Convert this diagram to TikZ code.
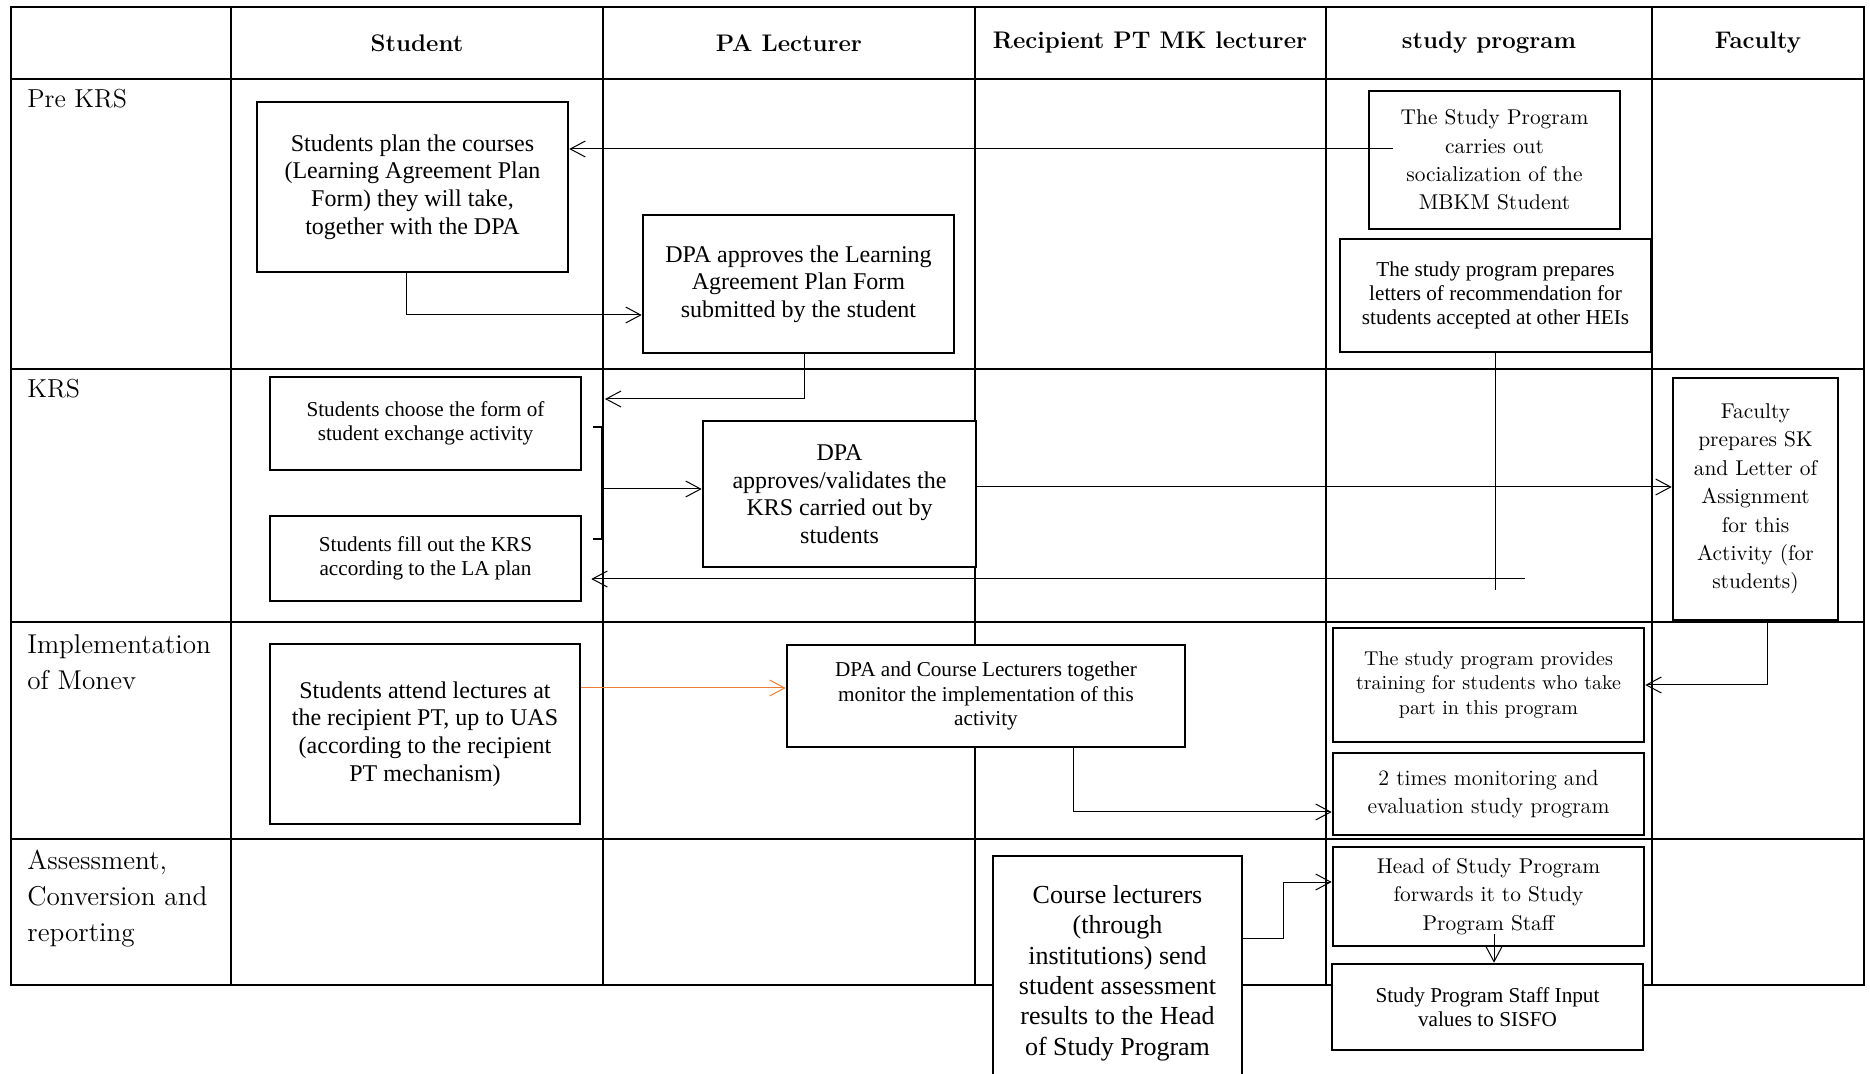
\documentclass[tikz,border=0pt]{standalone}
\usepackage{fontspec}
\newfontfamily\tms{Liberation Serif}
\usetikzlibrary{arrows.meta,calc,positioning}
\definecolor{accent}{RGB}{237,125,49}
\tikzset{
  lane/.style={
    line width=1.1pt
  },
  lanehead/.style={
    font=\bfseries\fontsize{12}{14}\selectfont,
    inner sep=0pt
  },
  phase/.style={
    anchor=north west,
    align=left,
    inner sep=0pt,
    font=\fontsize{13.6}{18}\selectfont
  },
  task/.style={
    draw,
    line width=1.3pt,
    fill=white,
    align=center,
    inner sep=0pt
  },
  small task/.style={
    task,
    font=\tms\fontsize{10.6}{12.2}\selectfont
  },
  large task/.style={
    task,
    font=\tms\fontsize{12}{13.8}\selectfont
  },
  book task/.style={
    task,
    font=\fontsize{10.7}{14.2}\selectfont
  },
  flow/.style={
    -{Straight Barb[length=7.5pt,width=8pt]},
    line width=0.5pt
  },
  bracket/.style={
    line width=1pt
  }
}

\begin{document}
\begin{tikzpicture}[x=0.5pt, y=-0.5pt]
  \useasboundingbox[fill=white] (0,0) rectangle (1870,1074);

  \draw[lane] (11,7) rectangle (1864,985);
  \draw[lane] (231,7) -- (231,985) (603,7) -- (603,985) (975,7) -- (975,985)
    (1326,7) -- (1326,985) (1652,7) -- (1652,985);
  \draw[lane] (11,79) -- (1864,79) (11,369) -- (1864,369) (11,622) -- (1864,622)
    (11,839) -- (1864,839);

  \node[lanehead] (hstud) at (417,43) {Student};
  \node[lanehead] (hpa) at (789,43) {PA Lecturer};
  \node[lanehead] (hrecip) at (1150,43) {Recipient PT MK lecturer};
  \node[lanehead] (hprog) at (1489,43) {study program};
  \node[lanehead] (hfac) at (1758,43) {Faculty};

  \node[phase, font=\fontsize{13}{18}\selectfont] (pre) at (27,89) {Pre KRS};
  \node[phase, font=\fontsize{13}{18}\selectfont] (krs) at (27,379) {KRS};
  \node[phase] (impl) at (27,634) {Implementation\\of Monev};
  \node[phase] (assess) at (27,850) {Assessment,\\Conversion and\\reporting};

  \node[large task, minimum width=155.5pt, minimum height=85pt] (plan) at (412.5,187) {Students plan the courses\\(Learning Agreement Plan\\Form) they will take,\\together with the DPA};
  \node[large task, minimum width=155.5pt, minimum height=69pt] (approve) at (798.5,284) {DPA approves the Learning\\Agreement Plan Form\\submitted by the student};
  \node[book task, minimum width=125.5pt, minimum height=69pt] (social) at (1494.5,160) {The Study Program\\carries out\\socialization of the\\MBKM Student};
  \node[small task, minimum width=155.5pt, minimum height=56.5pt] (letter) at (1495.5,295.5) {The study program prepares\\letters of recommendation for\\students accepted at other HEIs};
  \node[small task, minimum width=155.5pt, minimum height=46.5pt] (choose) at (425.5,423.5) {Students choose the form of\\student exchange activity};
  \node[small task, minimum width=155.5pt, minimum height=42.5pt] (krsfill) at (425.5,558.5) {Students fill out the KRS\\according to the LA plan};
  \node[large task, minimum width=136.5pt, minimum height=73pt] (validate) at (839.5,494) {DPA\\approves/validates the\\KRS carried out by\\students};
  \node[book task, minimum width=82.5pt, minimum height=121pt] (decree) at (1755.5,499) {Faculty\\prepares SK\\and Letter of\\Assignment\\for this\\Activity (for\\students)};
  \node[large task, minimum width=155pt, minimum height=90pt] (attend) at (425,734) {Students attend lectures at\\the recipient PT, up to UAS\\(according to the recipient\\PT mechanism)};
  \node[small task, minimum width=199pt, minimum height=51pt] (monitor) at (986,696) {DPA and Course Lecturers together\\monitor the implementation of this\\activity};
  \node[book task, font=\fontsize{10}{12.25}\selectfont, minimum width=155.5pt, minimum height=57pt] (train) at (1488.5,685) {The study program provides\\training for students who take\\part in this program};
  \node[book task, font=\fontsize{11}{14}\selectfont, minimum width=155.5pt, minimum height=41pt] (monev) at (1488.5,794) {2 times monitoring and\\evaluation study program};
  \node[book task, minimum width=155.5pt, minimum height=49.5pt] (head) at (1488.5,896.5) {Head of Study Program\\forwards it to Study\\Program Staff};
  \node[small task, minimum width=155.5pt, minimum height=43pt] (sisfo) at (1487.5,1007) {Study Program Staff Input\\values to SISFO};
  \node[task, font=\tms\fontsize{13}{15.2}\selectfont, minimum width=124.5pt, minimum height=117pt] (grades) at (1117.5,973) {Course lecturers\\(through\\institutions) send\\student assessment\\results to the Head\\of Study Program};

  \coordinate (soc) at (1393,149);
  \coordinate (pa) at (406,315);
  \coordinate (back) at (605,399);
  \coordinate (brt) at (602,427);
  \coordinate (brb) at (602,539);
  \coordinate (brm) at (602,489);
  \coordinate (ret) at (1525,579);
  \coordinate (km) at (1073,812);
  \coordinate (ln1) at (1283,938);
  \coordinate (ln2) at (1283,882);

  \draw[flow] (soc) -- (soc -| plan.east);
  \draw[flow] (plan.south -| pa) |- (pa -| approve.west);
  \draw[flow] ([xshift=2.75pt]approve.south) |- (back);
  \draw[bracket] ([xshift=-4.5pt]brt) -- (brt) -- (brb) -- ([xshift=-4.5pt]brb);
  \draw[flow] (brm) -- (brm -| validate.west);
  \draw[flow] ([yshift=3.5pt]validate.east) -- ([yshift=3.5pt]validate.east -| decree.west);
  \draw[line width=0.5pt] (letter.south) -- ++(0,237);
  \draw[flow] (ret) -- ([xshift=4.5pt]ret -| krsfill.east);
  \draw[flow] ([xshift=6pt]decree.south) |- (train.east);
  \draw[flow, accent] ([yshift=23pt]attend.east) -- ([yshift=23pt]attend.east -| monitor.west);
  \draw[flow] (monitor.south -| km) |- (km -| monev.west);
  \draw[flow] (ln1 -| grades.east) -- (ln1) -- (ln2) -- (ln2 -| head.west);
  \draw[flow] ([xshift=2.75pt,yshift=6.5pt]head.south) -- ([xshift=2.75pt]head.south |- sisfo.north);
\end{tikzpicture}
\end{document}
